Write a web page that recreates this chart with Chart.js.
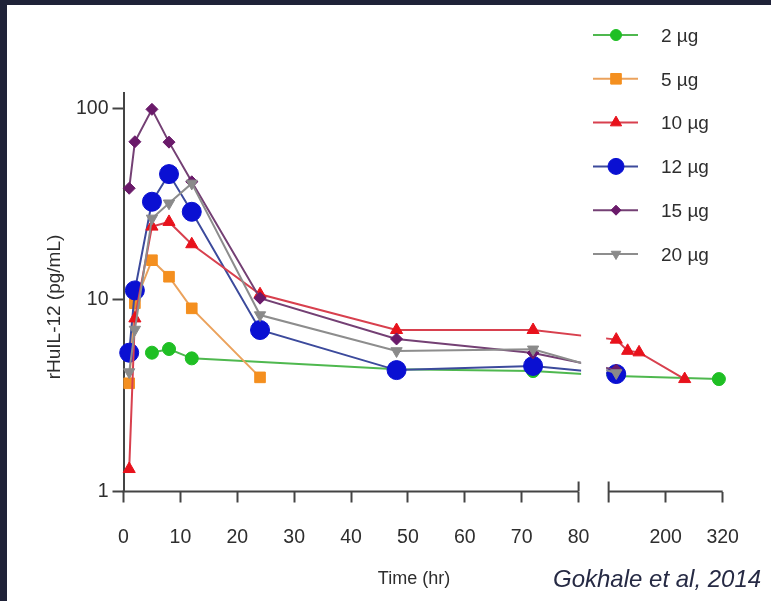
<!DOCTYPE html>
<html>
<head>
<meta charset="utf-8">
<script src="https://cdn.jsdelivr.net/npm/chart.js@4.4.1/dist/chart.umd.min.js"></script>
<style>
  html, body { margin: 0; padding: 0; background: #ffffff; }
  #wrap { position: absolute; left: 0; top: 0; width: 771px; height: 601px; }
</style>
</head>
<body>
<div id="wrap"><canvas id="c" width="771" height="601"></canvas></div>
<script>
// ---------------- data ----------------
const seriesLabels = ['2 \u00b5g', '5 \u00b5g', '10 \u00b5g', '12 \u00b5g', '15 \u00b5g', '20 \u00b5g'];

const hours2  = [5, 8, 12, 48, 72, 96, 312];
const vals2   = [5.3, 5.54, 4.95, 4.35, 4.25, 4.0, 3.86];

const hours5  = [1, 2, 5, 8, 12, 24];
const vals5   = [3.67, 9.6, 16.1, 13.2, 9.03, 3.94];

const hours10 = [1, 2, 5, 8, 12, 24, 48, 72, 96, 120, 144, 240];
const vals10  = [1.31, 8.0, 24.1, 25.5, 19.5, 10.7, 6.96, 6.96, 6.2, 5.42, 5.32, 3.86];

const hours12 = [1, 2, 5, 8, 12, 24, 48, 72, 96];
const vals12  = [5.3, 11.2, 32.5, 45.3, 28.8, 6.96, 4.3, 4.52, 4.1];

const hours15 = [1, 2, 5, 8, 12, 24, 48, 72, 96];
const vals15  = [38.2, 66.8, 98.6, 66.5, 41.3, 10.2, 6.25, 5.28, 4.3];

const hours20 = [1, 2, 5, 8, 12, 24, 48, 72, 96];
const vals20  = [4.2, 7.0, 26.6, 31.9, 40.5, 8.33, 5.41, 5.52, 4.15];

const xTickHours  = [0, 10, 20, 30, 40, 50, 60, 70, 80, 200, 320];
const xTickLabels = ['0', '10', '20', '30', '40', '50', '60', '70', '80', '200', '320'];
const yTickValues = [1, 10, 100];
const yTickLabels = ['1', '10', '100'];

const yTitle = 'rHuIL-12 (pg/mL)';
const xTitle = 'Time (hr)';
const citation = 'Gokhale et al, 2014';

// ---------------- broken time axis ----------------
const BREAK_AT = 80;        // end of first segment (hr)
const SEG2_START = 85.28;   // axis units where the second segment begins
const SEG2_SCALE = 0.08355; // axis units per hour in the second segment
function toAxis(t) { return t <= BREAK_AT ? t : SEG2_START + (t - BREAK_AT) * SEG2_SCALE; }
const X_MAX = toAxis(320);

function pts(h, v) { return h.map((t, i) => ({ x: toAxis(t), y: v[i] })); }

const FONT = '"Liberation Sans", Arial, Helvetica, sans-serif';
const AXIS_COLOR = '#444444';
const TEXT_COLOR = '#2e2e2e';

const styles = [
  { line: '#4fb84f', fill: '#1fbf24', style: 'circle',   r: 6.5, rot: 0,   lr: 5.5 },
  { line: '#eba25c', fill: '#f48f1f', style: 'rect',     r: 7.5, rot: 0,   lr: 7.5 },
  { line: '#d8404e', fill: '#e8121c', style: 'triangle', r: 7,   rot: 0,   lr: 6.5 },
  { line: '#3c4a9c', fill: '#0a10d2', style: 'circle',   r: 9.5, rot: 0,   lr: 8 },
  { line: '#744074', fill: '#6a1a6a', style: 'rectRot',  r: 6,   rot: 0,   lr: 5 },
  { line: '#8d8d8d', fill: '#8a8a8a', style: 'triangle', r: 6.5, rot: 180, lr: 5.5 }
];
const drawOrder = [5, 4, 2, 3, 1, 0]; // higher = drawn underneath

const seriesData = [pts(hours2, vals2), pts(hours5, vals5), pts(hours10, vals10),
                    pts(hours12, vals12), pts(hours15, vals15), pts(hours20, vals20)];

const datasets = seriesData.map((d, i) => ({
  label: seriesLabels[i],
  data: d,
  borderColor: styles[i].line,
  borderWidth: 2,
  backgroundColor: styles[i].fill,
  pointBackgroundColor: styles[i].fill,
  pointBorderColor: styles[i].fill,
  pointBorderWidth: 1,
  pointStyle: styles[i].style,
  pointRotation: styles[i].rot,
  pointRadius: styles[i].r,
  pointHoverRadius: styles[i].r,
  tension: 0,
  fill: false,
  clip: false,
  order: drawOrder[i]
}));

// ---------------- helpers ----------------
function marker(ctx, style, x, y, r, rot, color) {
  ctx.save();
  ctx.fillStyle = color; ctx.strokeStyle = color; ctx.lineWidth = 1;
  ctx.beginPath();
  if (style === 'circle') {
    ctx.arc(x, y, r, 0, Math.PI * 2);
  } else if (style === 'rect') {
    const s = r * Math.SQRT1_2;
    ctx.rect(x - s, y - s, 2 * s, 2 * s);
  } else if (style === 'rectRot') {
    ctx.moveTo(x - r, y); ctx.lineTo(x, y - r); ctx.lineTo(x + r, y); ctx.lineTo(x, y + r);
  } else if (style === 'triangle') {
    let a = rot * Math.PI / 180;
    for (let k = 0; k < 3; k++) {
      const px = x + Math.sin(a) * r, py = y - Math.cos(a) * r;
      if (k === 0) ctx.moveTo(px, py); else ctx.lineTo(px, py);
      a += 2 * Math.PI / 3;
    }
  }
  ctx.closePath(); ctx.fill(); ctx.stroke();
  ctx.restore();
}

const breakPlugin = {
  id: 'breakPlugin',
  beforeDraw(chart) {
    const ctx = chart.ctx;
    ctx.save();
    ctx.fillStyle = '#ffffff';
    ctx.fillRect(0, 0, chart.width, chart.height);
    ctx.fillStyle = '#1f2238';
    ctx.fillRect(0, 0, chart.width, 5);
    ctx.fillRect(0, 0, 7, chart.height);
    ctx.restore();
  },
  beforeDatasetsDraw(chart) {
    const ctx = chart.ctx, xs = chart.scales.x;
    const gl = xs.getPixelForValue(BREAK_AT) + 2.5;
    const gr = xs.getPixelForValue(SEG2_START) - 2.5;
    ctx.save();
    ctx.beginPath();
    ctx.rect(0, 0, gl, chart.height);
    ctx.rect(gr, 0, chart.width - gr, chart.height);
    ctx.clip();
  },
  afterDatasetsDraw(chart) { chart.ctx.restore(); },
  afterDraw(chart) {
    const ctx = chart.ctx, xs = chart.scales.x, ca = chart.chartArea;
    const y0 = ca.bottom;
    const p0 = xs.getPixelForValue(0), pb = xs.getPixelForValue(BREAK_AT);
    const ps = xs.getPixelForValue(SEG2_START), pe = xs.getPixelForValue(X_MAX);
    ctx.save();
    ctx.strokeStyle = AXIS_COLOR; ctx.lineWidth = 2; ctx.lineCap = 'butt';
    ctx.beginPath();
    ctx.moveTo(p0 - 1, y0); ctx.lineTo(pb, y0);
    ctx.moveTo(ps, y0); ctx.lineTo(pe, y0);
    // break markers
    ctx.moveTo(pb, y0 - 10); ctx.lineTo(pb, y0);
    ctx.moveTo(ps, y0 - 10); ctx.lineTo(ps, y0 + 11);
    ctx.stroke();

    // axis titles
    ctx.fillStyle = TEXT_COLOR;
    ctx.font = '18px ' + FONT;
    ctx.textAlign = 'center'; ctx.textBaseline = 'middle';
    ctx.fillText(xTitle, 414, 579);
    ctx.save();
    ctx.translate(55, 307);
    ctx.rotate(-Math.PI / 2);
    ctx.font = '19px ' + FONT;
    ctx.fillText(yTitle, 0, 0);
    ctx.restore();

    // citation
    ctx.fillStyle = '#262a44';
    ctx.font = 'italic 24px ' + FONT;
    ctx.textAlign = 'left';
    ctx.fillText(citation, 553, 580);

    // legend
    const lx0 = 593, lx1 = 638, mx = 616, tx = 661, ly0 = 35, dy = 43.8;
    chart.data.datasets.forEach((ds, i) => {
      const y = ly0 + i * dy, s = styles[i];
      ctx.strokeStyle = s.line; ctx.lineWidth = 2;
      ctx.beginPath(); ctx.moveTo(lx0, y); ctx.lineTo(lx1, y); ctx.stroke();
      marker(ctx, s.style, mx, y, s.lr, s.rot, s.fill);
      ctx.fillStyle = TEXT_COLOR;
      ctx.font = '19px ' + FONT;
      ctx.textAlign = 'left'; ctx.textBaseline = 'middle';
      ctx.fillText(ds.label, tx, y + 1.5);
    });
    ctx.restore();
  }
};

new Chart(document.getElementById('c'), {
  type: 'line',
  data: { datasets },
  plugins: [breakPlugin],
  options: {
    responsive: false,
    devicePixelRatio: 1,
    animation: false,
    layout: { padding: { left: 0, right: 48.3, top: 93, bottom: 0 } },
    plugins: { legend: { display: false }, tooltip: { enabled: false } },
    scales: {
      x: {
        type: 'linear',
        min: 0,
        max: X_MAX,
        afterBuildTicks(scale) { scale.ticks = xTickHours.map(h => ({ value: toAxis(h) })); },
        afterFit(scale) { scale.height = 109.5; },
        ticks: {
          autoSkip: false, maxRotation: 0, minRotation: 0,
          padding: 23,
          color: TEXT_COLOR,
          font: { family: FONT, size: 19.5 },
          callback(value, index) { return xTickLabels[index]; }
        },
        grid: { display: true, drawOnChartArea: false, drawTicks: true, tickLength: 11,
                tickWidth: 2, tickColor: AXIS_COLOR, color: AXIS_COLOR },
        border: { display: false }
      },
      y: {
        type: 'logarithmic',
        min: 1,
        max: 120,
        afterBuildTicks(scale) { scale.ticks = yTickValues.map(v => ({ value: v })); },
        afterFit(scale) { scale.width = 123.5; },
        ticks: {
          autoSkip: false,
          padding: 4,
          color: TEXT_COLOR,
          font: { family: FONT, size: 19.5 },
          callback(value, index) { return yTickLabels[index]; }
        },
        grid: { display: true, drawOnChartArea: false, drawTicks: true, tickLength: 11,
                tickWidth: 2, tickColor: AXIS_COLOR, color: AXIS_COLOR },
        border: { display: true, color: AXIS_COLOR, width: 2 }
      }
    }
  }
});
</script>
</body>
</html>
